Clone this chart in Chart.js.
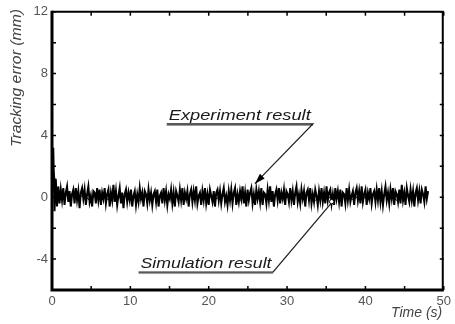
<!DOCTYPE html>
<html>
<head>
<meta charset="utf-8">
<script src="https://cdn.jsdelivr.net/npm/chart.js@4.4.1/dist/chart.umd.min.js"></script>
<style>
  html, body { margin: 0; padding: 0; background: #fff; }
  canvas { display: block; }
</style>
</head>
<body>
<canvas id="errChart" width="455" height="324"></canvas>
<script>
// tick labels
const xTickLabels = [0, 10, 20, 30, 40, 50];
const yTickLabels = [-4, 0, 4, 8, 12];
const xMinorTicks = [0, 5, 10, 15, 20, 25, 30, 35, 40, 45, 50];
const yMinorTicks = [-6, -4, -2, 0, 2, 4, 6, 8, 10, 12];

// sampling interval of the recorded signals (s)
const expStep = 0.16;
const simStep = 0.8;

// experiment result, tracking error (mm)
const expError = [
  0.4, 3.2, -0.9, 1.2, -0.6, 0.7, -0.4, 0.5, -0.2, 0.6, -0.5, 0.3, 0.7, -0.3, 0.4, -0.6, 0.2, 0.5, -0.4, 0.6, -0.2,
  0.4, -0.7, 0.3, 0.6, -0.1, 0.5, -0.5, 0.2, 0.7, -0.3, 0.1, -0.6, 0.4, 0.3, -0.4, 0.6, -0.2, 0.5, -0.5, 0.3,
  -0.1, 0.6, -0.4, 0.2, 0.5, -0.6, 0.3, -0.2, 0.8, -0.3, 0.4, -0.5, 0.1, 0.6, -0.4, 0.3, -0.7, 0.2, 0.5, -0.3,
  0.3, -0.2, 0.5, -0.6, 0.1, 0.4, -0.5, 0.2, -0.3, 0.6, -0.1, 0.3, -0.6, 0.4, 0.2, -0.4, 0.5, -0.2, 0.3, -0.5,
  0.2, 0.4, -0.3, 0.5, -0.6, 0.1, 0.3, -0.4, 0.6, -0.2, 0.4, -0.5, 0.2, -0.1, 0.5, -0.4, 0.3, -0.6, 0.4, 0.1,
  -0.3, 0.5, -0.2, 0.6, -0.5, 0.3, -0.1, 0.4, -0.6, 0.2, 0.5, -0.3, 0.4, -0.2, 0.7, -0.4, 0.1, 0.3, -0.5, 0.4,
  -0.2, 0.6, -0.4, 0.2, -0.5, 0.5, 0.1, -0.3, 0.4, -0.6, 0.3, 0.5, -0.2, 0.4, -0.4, 0.2, 0.6, -0.3, 0.1, -0.5,
  0.4, -0.2, 0.5, -0.4, 0.3, 0.6, -0.5, 0.2, -0.3, 0.4, -0.1, 0.7, -0.4, 0.3, -0.6, 0.5, -0.2, 0.3, 0.6, -0.4,
  0.2, -0.5, 0.5, -0.1, 0.4, -0.3, 0.6, -0.5, 0.3, 0.2, -0.4, 0.5, -0.2, 0.7, -0.3, 0.4, -0.6, 0.2, 0.5, -0.2,
  0.6, -0.4, 0.3, -0.1, 0.5, -0.5, 0.4, 0.2, -0.3, 0.6, -0.2, 0.4, -0.5, 0.3, 0.7, -0.3, 0.2, -0.4, 0.5, -0.1,
  0.4, -0.6, 0.3, 0.5, -0.2, 0.6, -0.4, 0.2, -0.3, 0.5, 0.1, -0.5, 0.4, -0.2, 0.6, -0.3, 0.3, -0.4, 0.7, -0.2,
  0.3, 0.5, -0.4, 0.2, -0.5, 0.6, -0.1, 0.4, -0.3, 0.5, -0.6, 0.3, 0.2, -0.4, 0.6, -0.2, 0.5, -0.3, 0.1, 0.4,
  -0.5, 0.3, 0.6, -0.2, 0.4, -0.4, 0.7, -0.3, 0.2, 0.5, -0.5, 0.3, -0.1, 0.6, -0.4, 0.2, 0.4, -0.3, 0.5, -0.2,
  0.6, -0.3, 0.4, -0.5, 0.2, 0.7, -0.2, 0.3, -0.4, 0.5, -0.1, 0.6, -0.5, 0.4, 0.2, -0.3, 0.5, -0.4, 0.8, -0.2,
  0.3, -0.5, 0.6, 0.1, -0.3, 0.5, -0.2, 0.4, -0.6, 0.3, 0.6, -0.2, 0.4, -0.4, 0.5, 0.2, -0.3, 0.7, -0.1, 0.4,
];

// simulation result, tracking error (mm)
const simError = [
  2.4, -0.2, 0.1, 0.2, -0.1, 0.15, -0.2, 0.1, 0.05, -0.15, 0.2, -0.1, 0.1, 0.0, -0.2, 0.15, 0.1, -0.1, 0.2, -0.05,
  0.1, -0.2, 0.15, 0.05, -0.1, 0.2, -0.15, 0.1, 0.0, 0.15, -0.2, 0.1, 0.2, -0.1, 0.05, -0.15, 0.2, 0.1, -0.1, 0.15,
  -0.05, 0.2, -0.2, 0.1, 0.0, -0.1, 0.2, 0.15, -0.15, 0.1, -0.05, 0.2, -0.1, 0.1, 0.15, -0.2, 0.05, 0.2, 0.1, 0.05,
];

const expPoints = expError.map((v, i) => ({ x: i * expStep, y: v }));
const simPoints = simError.map((v, i) => ({ x: i * simStep, y: v }));

// annotation anchors in data units
const notes = [
  { text: "Experiment result", textX: 14.9, textW: 142, lineY: 4.74, from: 33.3, to: { x: 25.9, y: 0.88 }, arrow: true },
  { text: "Simulation result", textX: 11.3, textW: 131, lineY: -4.84, from: 28.2, to: { x: 35.7, y: -0.35 }, arrow: false },
];

const FONT = '"Liberation Sans", Arial, sans-serif';

const framePlugin = {
  id: "frame",
  afterDraw(chart) {
    const { ctx, chartArea: a, scales } = chart;
    const xs = scales.x, ys = scales.y;
    ctx.save();
    ctx.strokeStyle = "#000";
    // inside ticks
    ctx.lineWidth = 1.5;
    ctx.beginPath();
    xMinorTicks.forEach((v) => {
      const px = xs.getPixelForValue(v);
      ctx.moveTo(px, a.bottom); ctx.lineTo(px, a.bottom - 4);
      ctx.moveTo(px, a.top); ctx.lineTo(px, a.top + 4);
    });
    yMinorTicks.forEach((v) => {
      const py = ys.getPixelForValue(v);
      ctx.moveTo(a.left, py); ctx.lineTo(a.left + 4, py);
      ctx.moveTo(a.right, py); ctx.lineTo(a.right - 4, py);
    });
    ctx.stroke();
    // frame
    ctx.lineWidth = 2;
    ctx.beginPath();
    ctx.moveTo(a.left, a.top); ctx.lineTo(a.right - 1, a.top); ctx.lineTo(a.right - 1, a.bottom);
    ctx.stroke();
    ctx.lineWidth = 3;
    ctx.beginPath();
    ctx.moveTo(a.left, a.top - 1); ctx.lineTo(a.left, a.bottom); ctx.lineTo(a.right, a.bottom);
    ctx.stroke();

    // annotations
    notes.forEach((n) => {
      const ly = ys.getPixelForValue(n.lineY);
      const x0 = xs.getPixelForValue(n.textX);
      ctx.font = "italic 14px " + FONT;
      ctx.fillStyle = "#1a1a1a";
      ctx.textBaseline = "alphabetic";
      ctx.textAlign = "left";
      const w = ctx.measureText(n.text).width;
      ctx.save();
      ctx.translate(x0, ly - 4);
      ctx.scale(n.textW / w, 1);
      ctx.fillText(n.text, 0, 0);
      ctx.restore();
      // underline with shadow
      ctx.strokeStyle = "#999";
      ctx.lineWidth = 1;
      ctx.beginPath();
      ctx.moveTo(x0 - 2, ly + 1.5); ctx.lineTo(xs.getPixelForValue(n.from), ly + 1.5);
      ctx.stroke();
      ctx.strokeStyle = "#222";
      ctx.beginPath();
      const ex = xs.getPixelForValue(n.from);
      ctx.moveTo(x0 - 2, ly); ctx.lineTo(ex, ly);
      const tx = xs.getPixelForValue(n.to.x), ty = ys.getPixelForValue(n.to.y);
      ctx.lineTo(tx, ty);
      ctx.lineWidth = 1.3;
      ctx.stroke();
      if (n.arrow) {
        const ang = Math.atan2(ty - ly, tx - ex);
        ctx.fillStyle = "#000";
        ctx.beginPath();
        ctx.moveTo(tx, ty);
        ctx.lineTo(tx - 11 * Math.cos(ang - 0.3), ty - 11 * Math.sin(ang - 0.3));
        ctx.lineTo(tx - 11 * Math.cos(ang + 0.3), ty - 11 * Math.sin(ang + 0.3));
        ctx.closePath();
        ctx.fill();
      } else {
        ctx.fillStyle = "#fff";
        ctx.strokeStyle = "#000";
        ctx.lineWidth = 1;
        ctx.beginPath();
        ctx.arc(tx, ty - 1, 2.2, 0, Math.PI * 2);
        ctx.fill();
        ctx.stroke();
      }
    });

    // axis titles
    ctx.fillStyle = "#444";
    ctx.font = "italic 14px " + FONT;
    ctx.textAlign = "center";
    ctx.textBaseline = "middle";
    ctx.save();
    ctx.translate(17, 78);
    ctx.rotate(-Math.PI / 2);
    const yt = "Tracking error (mm)";
    const yw = ctx.measureText(yt).width;
    ctx.scale(138 / yw, 1);
    ctx.fillText(yt, 0, 0);
    ctx.restore();
    ctx.textAlign = "left";
    ctx.fillText("Time (s)", 391, 313);
    ctx.restore();
  },
};

const ctx = document.getElementById("errChart").getContext("2d");
new Chart(ctx, {
  type: "line",
  data: {
    datasets: [
      {
        label: "Simulation result",
        data: simPoints,
        borderColor: "#000",
        borderWidth: 1,
        pointRadius: 0,
        tension: 0,
      },
      {
        label: "Experiment result",
        data: expPoints,
        borderColor: "#000",
        borderWidth: 2,
        pointRadius: 0,
        tension: 0,
      },
    ],
  },
  options: {
    responsive: false,
    animation: false,
    layout: { padding: { left: 0, top: 10, right: 2, bottom: 0 } },
    scales: {
      x: {
        type: "linear",
        min: 0,
        max: 50,
        grid: { display: false, drawTicks: false },
        border: { display: false },
        afterBuildTicks: (s) => { s.ticks = xTickLabels.map((v) => ({ value: v })); },
        afterFit: (s) => { s.height = 34; },
        ticks: { color: "#555", padding: 4, font: { family: FONT, size: 13 }, maxRotation: 0 },
      },
      y: {
        min: -6,
        max: 12,
        grid: { display: false, drawTicks: false },
        border: { display: false },
        afterBuildTicks: (s) => { s.ticks = yTickLabels.map((v) => ({ value: v })); },
        afterFit: (s) => { s.width = 52; },
        ticks: { color: "#555", padding: 4, font: { family: FONT, size: 13 } },
      },
    },
    plugins: {
      legend: { display: false },
      tooltip: { enabled: false },
    },
  },
  plugins: [framePlugin],
});
</script>
</body>
</html>
